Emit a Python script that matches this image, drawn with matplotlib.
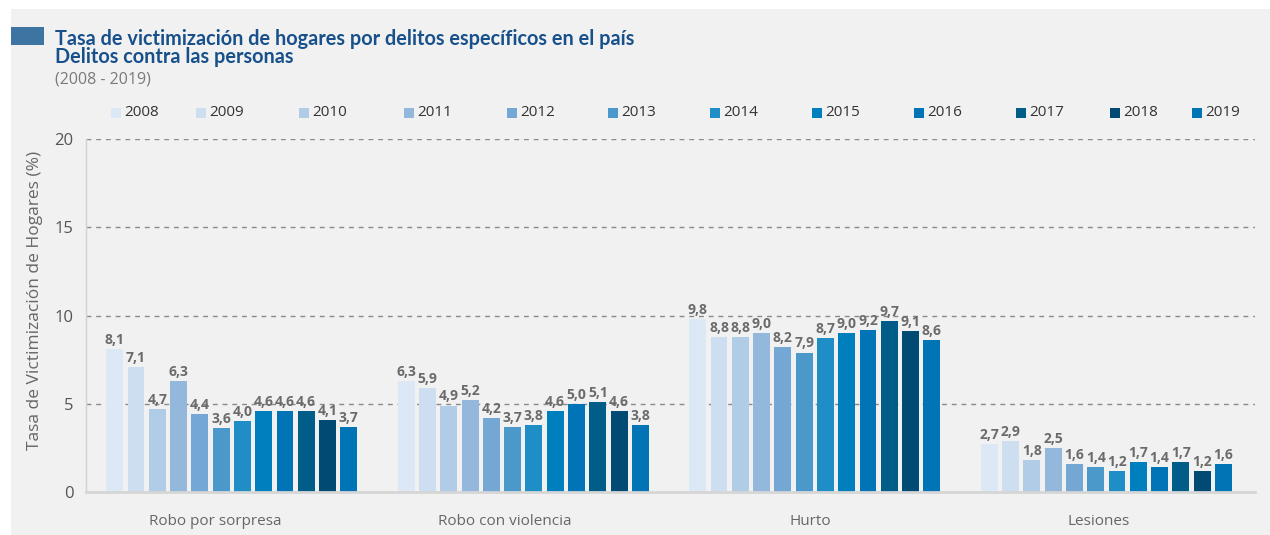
import matplotlib
matplotlib.use("Agg")
import matplotlib.pyplot as plt
from matplotlib.patches import Rectangle
import numpy as np

categories = ["Robo por sorpresa", "Robo con violencia", "Hurto", "Lesiones"]
years = ["2008", "2009", "2010", "2011", "2012", "2013",
         "2014", "2015", "2016", "2017", "2018", "2019"]
v2008 = [8.1, 6.3, 9.8, 2.7]
v2009 = [7.1, 5.9, 8.8, 2.9]
v2010 = [4.7, 4.9, 8.8, 1.8]
v2011 = [6.3, 5.2, 9.0, 2.5]
v2012 = [4.4, 4.2, 8.2, 1.6]
v2013 = [3.6, 3.7, 7.9, 1.4]
v2014 = [4.0, 3.8, 8.7, 1.2]
v2015 = [4.6, 4.6, 9.0, 1.7]
v2016 = [4.6, 5.0, 9.2, 1.4]
v2017 = [4.6, 5.1, 9.7, 1.7]
v2018 = [4.1, 4.6, 9.1, 1.2]
v2019 = [3.7, 3.8, 8.6, 1.6]
series = [v2008, v2009, v2010, v2011, v2012, v2013,
          v2014, v2015, v2016, v2017, v2018, v2019]
yticks = [0, 5, 10, 15, 20]

colors = ["#dce8f6", "#cddef0", "#b0cce6", "#93b8dc", "#74a7d4", "#4b98ca",
          "#1f8ec7", "#007fbe", "#0074b6", "#005d87", "#004a73", "#0074b5"]

W, H = 1270, 535
fig = plt.figure(figsize=(W / 100, H / 100), dpi=100)
fig.patch.set_facecolor("white")

def fx(x):
    return x / W

def fy(y):
    return 1 - y / H

# gray panel
fig.patches.append(Rectangle((fx(11), 0), 1 - fx(11), fy(9), transform=fig.transFigure,
                             facecolor="#f1f1f1", edgecolor="none", zorder=-10))
# title marker
fig.patches.append(Rectangle((fx(11), fy(45)), fx(44) - fx(11), fy(27) - fy(45),
                             transform=fig.transFigure, facecolor="#3e74a1",
                             edgecolor="none", zorder=1))

title_font = ["Lato", "DejaVu Sans"]
body_font = ["Open Sans", "DejaVu Sans"]

fig.text(fx(55), fy(45), "Tasa de victimización de hogares por delitos específicos en el país",
         family=title_font, fontweight="bold", fontsize=14.3, color="#17508b", va="baseline")
fig.text(fx(55), fy(63), "Delitos contra las personas",
         family=title_font, fontweight="bold", fontsize=14.3, color="#17508b", va="baseline")
fig.text(fx(55), fy(84), "(2008 - 2019)", family=body_font, fontsize=11.5,
         color="#7a7a7a", va="baseline")

# legend
leg_x = [111, 196, 299, 404, 507, 608, 710, 812, 914, 1016, 1110, 1192]
for lx, yr, c in zip(leg_x, years, colors):
    fig.patches.append(Rectangle((fx(lx), fy(118)), fx(10), fy(108) - fy(118),
                                 transform=fig.transFigure, facecolor=c,
                                 edgecolor="none", zorder=2))
    fig.text(fx(lx + 13), fy(113), yr, family=body_font, fontsize=11,
             color="#333333", va="center", ha="left")

ax = fig.add_axes([fx(86), fy(492), fx(1255) - fx(86), fy(139) - fy(492)])
ax.set_facecolor("none")

n = len(series)
pitch = 0.073
width = 0.058
x = np.arange(len(categories))
for k, (vals, c) in enumerate(zip(series, colors)):
    pos = x + (k - (n - 1) / 2) * pitch
    bars = ax.bar(pos, vals, width=width, color=c, zorder=3)
    for b, v in zip(bars, vals):
        ax.annotate(f"{v:.1f}".replace(".", ","), (b.get_x() + b.get_width() / 2, v),
                    xytext=(0, 1.5), textcoords="offset points", ha="center", va="bottom",
                    family=body_font, fontweight="bold", fontsize=10, color="#6b6b6b",
                    zorder=4)

ax.set_xlim(-0.5, 3.51)
ax.set_ylim(0, 20)
ax.set_yticks(yticks)
ax.set_yticklabels([str(t) for t in yticks], family=body_font, fontsize=12, color="#555555")
label_offsets = [-0.058, -0.064, -0.017, -0.026]
ax.set_xticks(x + np.array(label_offsets))
ax.set_xticklabels(categories, family=body_font, fontsize=11, color="#666666")
ax.tick_params(axis="x", length=0, pad=16)
ax.tick_params(axis="y", length=0, pad=9)

for t in yticks[1:]:
    ax.axhline(t, color="#8a8a8a", lw=1, ls=(0, (3.5, 3.5)), zorder=1)

for s in ["top", "right"]:
    ax.spines[s].set_visible(False)
ax.spines["left"].set_color("#d2d2d2")
ax.spines["left"].set_linewidth(1)
ax.spines["bottom"].set_color("#d6d6d6")
ax.spines["bottom"].set_linewidth(2)
ax.spines["bottom"].set_zorder(5)

fig.text(fx(35), fy(300), "Tasa de Victimización de Hogares (%)", rotation=90,
         family=body_font, fontsize=12.5, color="#666666", ha="center", va="center")

fig.savefig("out.png", dpi=100, facecolor=fig.get_facecolor())
